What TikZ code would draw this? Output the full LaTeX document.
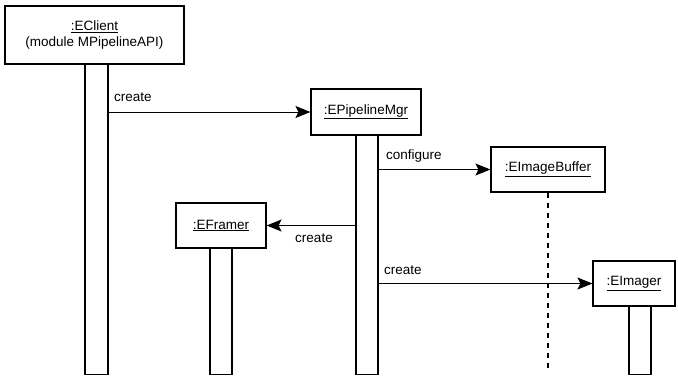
\documentclass[tikz,border=0pt]{standalone}
\usepackage{fontspec}
\setmainfont{Liberation Sans}
\usetikzlibrary{arrows.meta}
\begin{document}
\begin{tikzpicture}[x=1pt,y=-1pt,
  every node/.style={font=\fontsize{13.5}{15}\selectfont},
  obj/.style={draw,line width=1.1pt,rectangle,inner sep=0pt,align=center},
  lifebar/.style={draw,line width=1.1pt,rectangle,inner sep=0pt,anchor=north,minimum width=22pt},
  lifeline/.style={line width=1.4pt,dash pattern=on 5pt off 5pt},
  msg/.style={line width=1pt,-{Stealth[length=15pt,width=12pt,inset=3pt]}},
  msglabel/.style={inner sep=0pt}]
\useasboundingbox (0,0) rectangle (678,376);

% objects
\node[obj,minimum width=179pt,minimum height=58pt] (client) at (94.5,35)
  {\underline{:EClient}\\[1pt](module MPipelineAPI)};
\node[obj,minimum width=110pt,minimum height=46pt] (mgr) at (366,112) {\underline{:EPipelineMgr}};
\node[obj,minimum width=114pt,minimum height=45pt] (buffer) at (548,169.5) {\underline{:EImageBuffer}};
\node[obj,minimum width=90pt,minimum height=45pt] (framer) at (221,225.5) {\underline{:EFramer}};
\node[obj,minimum width=82pt,minimum height=45pt] (imager) at (634,283.5) {\underline{:EImager}};

% activation bars and lifeline
\node[lifebar,minimum width=23pt,minimum height=310pt] (clientbar) at (96.5,64) {};
\node[lifebar,minimum height=239pt] (mgrbar) at (367,135) {};
\node[lifebar,minimum height=126pt] (framerbar) at (221,248) {};
\node[lifebar,minimum height=68pt] (imagerbar) at (640,306) {};
\coordinate (bufferend) at (548,369);
\draw[lifeline] (buffer.south) -- (bufferend);

% messages
\draw[msg] (clientbar.east |- mgr.west) -- (mgr.west);
\node[msglabel,anchor=west] (l1) at (114,97) {create};
\draw[msg] (mgrbar.east |- buffer.west) -- (buffer.west);
\node[msglabel,anchor=west] (l2) at (386,156) {configure};
\draw[msg] (mgrbar.west |- framer.east) -- (framer.east);
\node[msglabel] (l3) at (314,238) {create};
\draw[msg] (mgrbar.east |- imager.west) -- (imager.west);
\node[msglabel,anchor=west] (l4) at (384,270) {create};
\end{tikzpicture}
\end{document}
